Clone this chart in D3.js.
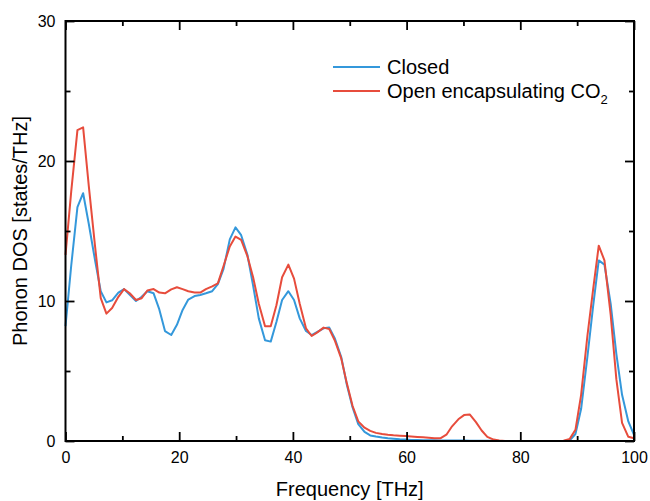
<!DOCTYPE html>
<html>
<head>
<meta charset="utf-8">
<script src="https://cdn.jsdelivr.net/npm/d3@7"></script>
<style>
  body { margin: 0; background: #fff; }
  svg text { font-family: "Liberation Sans", Arial, sans-serif; fill: #000; }
</style>
</head>
<body>
<div id="chart"></div>
<script>
// frequency grid [THz]
var frequency = [0.0, 1.0, 2.1, 3.1, 4.1, 5.2, 6.2, 7.2, 8.2, 9.3,
  10.3, 11.3, 12.4, 13.4, 14.4, 15.5, 16.5, 17.5, 18.6, 19.6,
  20.6, 21.6, 22.7, 23.7, 24.7, 25.8, 26.8, 27.8, 28.9, 29.9,
  30.9, 32.0, 33.0, 34.0, 35.1, 36.1, 37.1, 38.1, 39.2, 40.2,
  41.2, 42.3, 43.3, 44.3, 45.4, 46.4, 47.4, 48.5, 49.5, 50.5,
  51.5, 52.6, 53.6, 54.6, 55.7, 56.7, 57.7, 58.8, 59.8, 60.8,
  61.9, 62.9, 63.9, 64.9, 66.0, 67.0, 68.0, 69.1, 70.1, 71.1,
  72.2, 73.2, 74.2, 75.3, 76.3, 77.3, 78.4, 79.4, 80.4, 81.4,
  82.5, 83.5, 84.5, 85.6, 86.6, 87.6, 88.7, 89.7, 90.7, 91.8,
  92.8, 93.8, 94.8, 95.9, 96.9, 97.9, 99.0, 100.0];

var closedDos = [8.2, 12.5, 16.7, 17.7, 15.5, 12.9, 10.7, 9.9, 10.05, 10.6,
  10.85, 10.45, 10.0, 10.3, 10.7, 10.55, 9.4, 7.85, 7.57, 8.3,
  9.36, 10.1, 10.35, 10.43, 10.55, 10.7, 11.2, 12.3, 14.4, 15.26,
  14.7, 13.3, 11.1, 8.76, 7.2, 7.1, 8.5, 10.07, 10.7, 10.07,
  8.76, 7.86, 7.57, 7.8, 8.05, 8.1, 7.3, 6.0, 4.0, 2.4,
  1.2, 0.65, 0.4, 0.32, 0.25, 0.2, 0.16, 0.12, 0.1, 0.08,
  0.07, 0.06, 0.05, 0.05, 0.04, 0.04, 0.03, 0.03, 0.03, 0.02,
  0.02, 0.02, 0.01, 0.01, 0.0, 0.0, 0.0, 0.0, 0.0, 0.0,
  0.0, 0.0, 0.0, 0.0, 0.0, 0.0, 0.05, 0.5, 2.3, 6.0,
  9.6, 12.9, 12.6, 9.8, 6.2, 3.3, 1.4, 0.43];

var openDos = [13.3, 17.8, 22.2, 22.4, 18.2, 13.9, 10.2, 9.1, 9.5, 10.3,
  10.85, 10.55, 10.07, 10.2, 10.75, 10.85, 10.6, 10.55, 10.83, 10.98,
  10.85, 10.7, 10.6, 10.6, 10.85, 11.05, 11.26, 12.5, 13.9, 14.6,
  14.36, 13.2, 11.7, 9.8, 8.2, 8.2, 9.7, 11.7, 12.6, 11.6,
  9.8, 8.05, 7.5, 7.76, 8.1, 8.0, 7.15, 5.9, 4.1, 2.5,
  1.4, 0.95, 0.72, 0.58, 0.5, 0.45, 0.41, 0.38, 0.36, 0.33,
  0.29, 0.26, 0.23, 0.2, 0.2, 0.45, 1.05, 1.55, 1.85, 1.9,
  1.35, 0.75, 0.3, 0.1, 0.03, 0.0, 0.0, 0.0, 0.0, 0.0,
  0.0, 0.0, 0.0, 0.0, 0.0, 0.02, 0.15, 0.8, 3.3, 7.5,
  10.8, 13.95, 12.9, 9.0, 4.4, 1.3, 0.3, 0.2];

var xMajorTicks = [0, 20, 40, 60, 80, 100];
var xMinorTicks = [10, 30, 50, 70, 90];
var yMajorTicks = [0, 10, 20, 30];
var yMinorTicks = [5, 15, 25];

var seriesNames = ["Closed", "Open encapsulating CO"];
var seriesColors = ["#3498db", "#e74c3c"];

var W = 650, H = 501;
var plotLeft = 65.5, plotRight = 634, plotTop = 21, plotBottom = 441;

var svg = d3.select("#chart").append("svg")
  .attr("width", W)
  .attr("height", H);

var x = d3.scaleLinear().domain([0, 100]).range([plotLeft, plotRight]);
var y = d3.scaleLinear().domain([0, 30]).range([plotBottom, plotTop]);

// lines
var line = d3.line()
  .x(function(d) { return x(d[0]); })
  .y(function(d) { return y(d[1]); });

var allSeries = [closedDos, openDos];
allSeries.forEach(function(vals, i) {
  var pts = frequency.map(function(f, j) { return [f, vals[j]]; });
  svg.append("path")
    .datum(pts)
    .attr("fill", "none")
    .attr("stroke", seriesColors[i])
    .attr("stroke-width", 2)
    .attr("stroke-linejoin", "round")
    .attr("d", line);
});

// axes, ticks pointing inwards
function styleAxis(g) {
  g.select(".domain").remove();
  g.selectAll(".tick line").attr("stroke", "#000").attr("stroke-width", 1.8);
  g.selectAll(".tick text")
    .style("font-size", "16px")
    .style("font-family", "'Liberation Sans', Arial, sans-serif")
    .attr("fill", "#000");
}

svg.append("g")
  .attr("transform", "translate(0," + plotBottom + ")")
  .call(d3.axisBottom(x).tickValues(xMajorTicks).tickSize(-9).tickPadding(11).tickFormat(d3.format("d")))
  .call(styleAxis);
svg.append("g")
  .attr("transform", "translate(0," + plotBottom + ")")
  .call(d3.axisBottom(x).tickValues(xMinorTicks).tickSize(-5).tickFormat(""))
  .call(styleAxis);
svg.append("g")
  .attr("transform", "translate(0," + plotTop + ")")
  .call(d3.axisTop(x).tickValues(xMajorTicks).tickSize(-9).tickFormat(""))
  .call(styleAxis);
svg.append("g")
  .attr("transform", "translate(0," + plotTop + ")")
  .call(d3.axisTop(x).tickValues(xMinorTicks).tickSize(-5).tickFormat(""))
  .call(styleAxis);

svg.append("g")
  .attr("transform", "translate(" + plotLeft + ",0)")
  .call(d3.axisLeft(y).tickValues(yMajorTicks).tickSize(-9).tickPadding(10).tickFormat(d3.format("d")))
  .call(styleAxis);
svg.append("g")
  .attr("transform", "translate(" + plotLeft + ",0)")
  .call(d3.axisLeft(y).tickValues(yMinorTicks).tickSize(-5).tickFormat(""))
  .call(styleAxis);
svg.append("g")
  .attr("transform", "translate(" + plotRight + ",0)")
  .call(d3.axisRight(y).tickValues(yMajorTicks).tickSize(-9).tickFormat(""))
  .call(styleAxis);
svg.append("g")
  .attr("transform", "translate(" + plotRight + ",0)")
  .call(d3.axisRight(y).tickValues(yMinorTicks).tickSize(-5).tickFormat(""))
  .call(styleAxis);

// frame
svg.append("rect")
  .attr("x", plotLeft)
  .attr("y", plotTop)
  .attr("width", plotRight - plotLeft)
  .attr("height", plotBottom - plotTop)
  .attr("fill", "none")
  .attr("stroke", "#000")
  .attr("stroke-width", 2);

// axis titles
svg.append("text")
  .attr("x", (plotLeft + plotRight) / 2)
  .attr("y", 496)
  .attr("text-anchor", "middle")
  .style("font-size", "20px")
  .text("Frequency [THz]");

svg.append("text")
  .attr("transform", "translate(27," + (plotTop + plotBottom) / 2 + ") rotate(-90)")
  .attr("text-anchor", "middle")
  .style("font-size", "20px")
  .text("Phonon DOS [states/THz]");

// legend
var legend = svg.append("g").attr("transform", "translate(333,67)");
seriesNames.forEach(function(name, i) {
  var g = legend.append("g").attr("transform", "translate(0," + i * 24 + ")");
  g.append("line")
    .attr("x1", 0).attr("x2", 47)
    .attr("stroke", seriesColors[i])
    .attr("stroke-width", 2);
  var t = g.append("text")
    .attr("x", 54)
    .attr("dy", "0.35em")
    .style("font-size", "20px")
    .text(name);
  if (i === 1) {
    t.append("tspan")
      .attr("dy", 6)
      .style("font-size", "13px")
      .text("2");
  }
});
</script>
</body>
</html>
